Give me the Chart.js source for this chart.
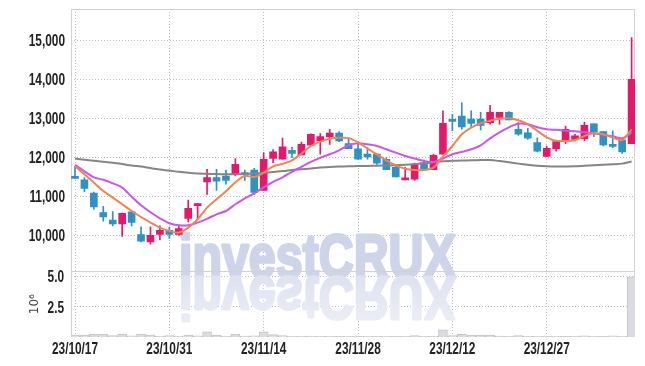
<!doctype html>
<html lang="en">
  <head>
    <meta charset="UTF-8" />
    <title>Chart</title>
    <style>
      html, body { margin: 0; padding: 0; background: #fff; }
      #wrap { position: relative; width: 645px; height: 366px; }
    </style>
  </head>

  <body>
    <div id="wrap"><canvas id="chart"></canvas></div>

    <script src="https://cdn.jsdelivr.net/npm/chart.js@4"></script>

    <script>
      // trading days, yy/mm/dd
      const DATES = [
        '23/10/17', '23/10/18', '23/10/19', '23/10/20', '23/10/23', '23/10/24', '23/10/25', '23/10/26', '23/10/27', '23/10/30',
        '23/10/31', '23/11/01', '23/11/02', '23/11/03', '23/11/06', '23/11/07', '23/11/08', '23/11/09', '23/11/10', '23/11/13',
        '23/11/14', '23/11/15', '23/11/16', '23/11/17', '23/11/20', '23/11/21', '23/11/22', '23/11/23', '23/11/24', '23/11/27',
        '23/11/28', '23/11/29', '23/11/30', '23/12/01', '23/12/04', '23/12/05', '23/12/06', '23/12/07', '23/12/08', '23/12/11',
        '23/12/12', '23/12/13', '23/12/14', '23/12/15', '23/12/18', '23/12/19', '23/12/20', '23/12/21', '23/12/22', '23/12/26',
        '23/12/27', '23/12/28', '24/01/02', '24/01/03', '24/01/04', '24/01/05', '24/01/08', '24/01/09', '24/01/10', '24/01/11',
      ]

      const OPEN = [
        11510, 11420, 11080, 10580, 10390, 10290, 10600, 10020, 9830, 10020,
        10130, 10020, 10430, 10760, 11370, 11480, 11520, 11580, 11600, 11670,
        11150, 11970, 11950, 12180, 12060, 12310, 12420, 12520, 12620, 12350,
        12220, 12080, 12080, 11950, 11740, 11420, 11440, 11860, 11680, 12080,
        12940, 13060, 12980, 12980, 12890, 13020, 13150, 12720, 12630, 12380,
        12020, 12220, 12440, 12460, 12480, 12860, 12660, 12330, 12440, 12350,
      ]
      const HIGH = [
        11770, 11480, 11110, 10740, 10610, 10570, 10620, 10220, 10220, 10240,
        10210, 10260, 10900, 10820, 11690, 11690, 11670, 11970, 11670, 11720,
        12120, 12200, 12490, 12260, 12390, 12600, 12610, 12720, 12660, 12460,
        12390, 12250, 12080, 11990, 11820, 11740, 11850, 11930, 12080, 13190,
        13100, 13400, 13190, 13150, 13330, 13150, 13170, 12890, 12740, 12500,
        12290, 12400, 12800, 12590, 12900, 12860, 12660, 12680, 12440, 15070,
      ]
      const LOW = [
        11450, 11120, 10670, 10360, 10240, 9970, 10240, 9830, 9770, 9880,
        9920, 10000, 10340, 10410, 11050, 11150, 11310, 11520, 11410, 11050,
        11150, 11860, 11950, 11990, 12060, 12300, 12080, 12330, 12400, 12220,
        11950, 11950, 11820, 11680, 11500, 11420, 11410, 11690, 11680, 12080,
        12680, 12720, 12760, 12700, 12850, 12850, 12960, 12560, 12460, 12140,
        12020, 12160, 12350, 12420, 12420, 12530, 12290, 12250, 12100, 12350,
      ]
      const CLOSE = [
        11460, 11200, 10730, 10470, 10290, 10560, 10330, 9850, 10000, 10130,
        10020, 10170, 10690, 10800, 11480, 11390, 11410, 11820, 11560, 11100,
        11950, 12140, 12270, 12100, 12330, 12590, 12530, 12620, 12420, 12220,
        11950, 12010, 11850, 11680, 11500, 11460, 11820, 11690, 12050, 12870,
        12920, 12780, 12870, 12820, 13150, 13150, 12960, 12590, 12490, 12160,
        12230, 12400, 12720, 12550, 12820, 12650, 12320, 12280, 12140, 14000,
      ]
      // shares
      const VOLUME = [
        150000, 150000, 250000, 250000, 120000, 250000, 100000, 250000, 150000, 80000,
        120000, 80000, 150000, 100000, 420000, 150000, 80000, 250000, 80000, 100000,
        420000, 200000, 120000, 60000, 50000, 80000, 60000, 50000, 40000, 50000,
        40000, 50000, 40000, 50000, 40000, 50000, 120000, 50000, 80000, 580000,
        120000, 220000, 150000, 150000, 150000, 80000, 60000, 120000, 50000, 50000,
        40000, 50000, 40000, 60000, 100000, 50000, 40000, 100000, 50000, 4950000,
      ]

      // moving averages
      const MA_FAST = [
        11777, 11564, 11351, 11136, 10967, 10795, 10623, 10469, 10326, 10197,
        10110, 10069, 10197, 10410, 10710, 10923, 11128, 11359, 11526, 11495,
        11608, 11769, 11833, 11923, 12090, 12290, 12397, 12474, 12500, 12492,
        12385, 12223, 12077, 11923, 11795, 11705, 11674, 11674, 11736, 12018,
        12290, 12590, 12762, 12872, 12936, 12987, 13000, 12949, 12846, 12679,
        12513, 12423, 12418, 12436, 12546, 12615, 12590, 12505, 12444, 12718,
      ]
      const MA_MID = [
        11808, 11641, 11487, 11423, 11333, 11223, 10987, 10769, 10590, 10436,
        10308, 10256, 10256, 10326, 10423, 10538, 10623, 10795, 10949, 11077,
        11231, 11372, 11487, 11628, 11756, 11885, 11987, 12077, 12179, 12308,
        12359, 12333, 12290, 12205, 12121, 12033, 11967, 11905, 11879, 11967,
        12077, 12136, 12205, 12308, 12487, 12641, 12769, 12859, 12846, 12769,
        12718, 12705, 12679, 12667, 12641, 12615, 12577, 12538, 12487, 12633,
      ]
      const MA_SLOW = [
        11967, 11936, 11910, 11885, 11859, 11826, 11790, 11762, 11723, 11687,
        11659, 11628, 11603, 11585, 11577, 11569, 11564, 11564, 11572, 11585,
        11603, 11623, 11646, 11672, 11692, 11713, 11736, 11754, 11764, 11769,
        11774, 11779, 11785, 11790, 11795, 11808, 11826, 11846, 11872, 11897,
        11910, 11918, 11923, 11928, 11928, 11903, 11872, 11838, 11808, 11782,
        11769, 11762, 11764, 11769, 11782, 11795, 11810, 11821, 11838, 11890,
      ]

      const X_TICKS = [0, 10, 20, 30, 40, 50]
      const PRICE_TICKS = [10000, 11000, 12000, 13000, 14000, 15000]
      const VOLUME_TICKS = [2500000, 5000000]

      const UP = '#e31a6c'
      const DOWN = '#2f91c6'
      const GRID = '#b9b9cf'
      const TEXT = '#222'
      // the tick font of the original is a condensed face; squeeze a normal one
      const LABEL_FONT = "bold 16px 'Liberation Sans', Arial, sans-serif"
      const LABEL_SQUEEZE = 0.74

      const candleColors = OPEN.map((o, i) => (CLOSE[i] >= o ? UP : DOWN))
      const xy = (arr) => arr.map((v, i) => ({ x: i, y: v }))

      // faint logo behind the plot, with its mirror image below
      const watermark = {
        id: 'watermark',
        beforeDatasetsDraw(chart) {
          const { ctx, chartArea } = chart
          const baseY = chart.scales.y.bottom + 6
          ctx.save()
          ctx.beginPath()
          ctx.rect(chartArea.left, chartArea.top, chartArea.right - chartArea.left, chartArea.bottom - chartArea.top)
          ctx.clip()
          ctx.font = "bold 62px 'Liberation Sans', Arial, sans-serif"
          ctx.textBaseline = 'alphabetic'
          ctx.lineJoin = 'round'
          ctx.translate(chartArea.left + 108, baseY)
          ctx.scale(0.78, 1)
          ctx.fillStyle = 'rgb(206, 212, 234)'
          ctx.strokeStyle = 'rgb(206, 212, 234)'
          ctx.lineWidth = 3
          ctx.fillText('investCRUX', 0, 0)
          ctx.strokeText('investCRUX', 0, 0)
          ctx.scale(1, -1)
          const g = ctx.createLinearGradient(0, 0, 0, -46)
          g.addColorStop(0, 'rgb(222, 226, 241)')
          g.addColorStop(1, 'rgb(236, 238, 246)')
          ctx.fillStyle = g
          ctx.strokeStyle = g
          ctx.fillText('investCRUX', 0, 0)
          ctx.strokeText('investCRUX', 0, 0)
          ctx.restore()
        },
      }

      // plot frame and the line between price and volume panels
      const frame = {
        id: 'frame',
        beforeDatasetsDraw(chart) {
          const { ctx, chartArea } = chart
          const l = Math.round(chartArea.left) + 0.5
          const r = Math.round(chartArea.right) - 0.5
          const t = Math.round(chartArea.top) + 0.5
          const b = Math.round(chartArea.bottom) - 0.5
          const sep = Math.round(chart.scales.y.bottom) + 0.5
          ctx.save()
          ctx.strokeStyle = '#d2d2d2'
          ctx.lineWidth = 1
          ctx.strokeRect(l, t, r - l, b - t)
          ctx.beginPath()
          ctx.moveTo(l, sep)
          ctx.lineTo(r, sep)
          ctx.stroke()
          ctx.restore()
        },
      }

      // tick labels, placed with the chart's own scales
      const tickLabels = {
        id: 'tickLabels',
        afterDraw(chart) {
          const { ctx, chartArea, scales } = chart
          const put = (text, x, y, align) => {
            ctx.save()
            ctx.translate(x, y)
            ctx.scale(LABEL_SQUEEZE, 1)
            ctx.textAlign = align
            ctx.textBaseline = 'middle'
            ctx.fillText(text, 0, 0)
            ctx.restore()
          }
          ctx.save()
          ctx.fillStyle = TEXT
          ctx.font = LABEL_FONT
          PRICE_TICKS.forEach((v) => put(v.toLocaleString('en-US'), chartArea.left - 6, scales.y.getPixelForValue(v) + 1.5, 'right'))
          VOLUME_TICKS.forEach((v) => put((v / 1e6).toFixed(1), chartArea.left - 7, scales.yv.getPixelForValue(v) + 1.5, 'right'))
          X_TICKS.forEach((v) => put(DATES[v], scales.x.getPixelForValue(v), chartArea.bottom + 13, 'center'))
          ctx.restore()
        },
      }

      const ctx = document.getElementById('chart')

      new Chart(ctx, {
        type: 'bar',
        data: {
          datasets: [
            {
              type: 'line',
              label: 'MA fast',
              data: xy(MA_FAST),
              yAxisID: 'y',
              borderColor: '#f0854f',
              borderWidth: 2,
              pointRadius: 0,
              tension: 0.3,
              order: 0,
            },
            {
              type: 'line',
              label: 'MA mid',
              data: xy(MA_MID),
              yAxisID: 'y',
              borderColor: '#cc55ea',
              borderWidth: 2,
              pointRadius: 0,
              tension: 0.3,
              order: 0,
            },
            {
              type: 'line',
              label: 'MA slow',
              data: xy(MA_SLOW),
              yAxisID: 'y',
              borderColor: '#858585',
              borderWidth: 2,
              pointRadius: 0,
              tension: 0.3,
              order: 0,
            },
            {
              label: 'body',
              data: OPEN.map((o, i) => ({ x: i, y: [o, CLOSE[i]] })),
              yAxisID: 'y',
              backgroundColor: candleColors,
              borderWidth: 0,
              barThickness: 7,
              minBarLength: 2,
              grouped: false,
              order: 1,
            },
            {
              label: 'wick',
              data: LOW.map((lo, i) => ({ x: i, y: [lo, HIGH[i]] })),
              yAxisID: 'y',
              backgroundColor: candleColors,
              borderWidth: 0,
              barThickness: 1,
              grouped: false,
              order: 2,
            },
            {
              label: 'volume',
              data: xy(VOLUME),
              yAxisID: 'yv',
              backgroundColor: '#dcdce0',
              borderColor: '#c4c4c8',
              borderWidth: 1,
              barThickness: 9,
              grouped: false,
              order: 3,
            },
          ],
        },
        plugins: [watermark, frame, tickLabels],
        options: {
          responsive: true,
          maintainAspectRatio: false,
          animation: false,
          layout: { padding: { top: 9, right: 10, left: 0, bottom: 0 } },
          plugins: {
            legend: { display: false },
            tooltip: { enabled: false },
          },
          scales: {
            x: {
              type: 'linear',
              min: -0.424,
              max: 59.36,
              offset: false,
              afterBuildTicks: (s) => {
                s.ticks = X_TICKS.map((v) => ({ value: v }))
              },
              afterFit: (s) => {
                s.height = 29
              },
              ticks: { display: false, autoSkip: false },
              grid: { color: GRID, drawTicks: false, offset: false },
              border: { display: false, dash: [1, 2] },
            },
            yv: {
              type: 'linear',
              position: 'left',
              stack: 'panels',
              stackWeight: 1,
              min: 0,
              max: 5400000,
              afterBuildTicks: (s) => {
                s.ticks = VOLUME_TICKS.map((v) => ({ value: v }))
              },
              afterFit: (s) => {
                s.width = 71
              },
              ticks: { display: false },
              title: {
                display: true,
                text: '10⁶',
                color: '#444',
                font: { family: "'DejaVu Sans', sans-serif", size: 12 },
                padding: { top: 28, bottom: 0 },
              },
              grid: { color: GRID, drawTicks: false },
              border: { display: false, dash: [1, 2] },
            },
            y: {
              type: 'linear',
              position: 'left',
              stack: 'panels',
              stackWeight: 4,
              min: 9074,
              max: 15803,
              afterBuildTicks: (s) => {
                s.ticks = PRICE_TICKS.map((v) => ({ value: v }))
              },
              afterFit: (s) => {
                s.width = 71
              },
              ticks: { display: false },
              grid: { color: GRID, drawTicks: false },
              border: { display: false, dash: [1, 2] },
            },
          },
        },
      })
    </script>
  </body>
</html>
